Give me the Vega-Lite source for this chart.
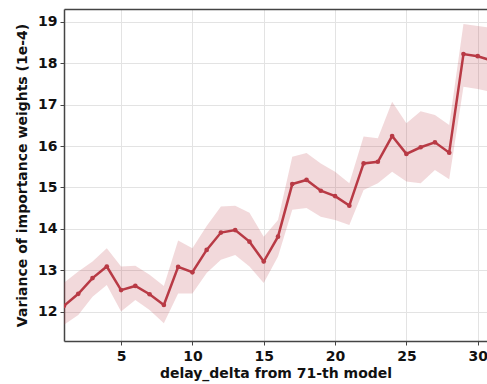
{
  "$schema": "https://vega.github.io/schema/vega-lite/v6.json",
  "width": 423,
  "height": 332,
  "autosize": {"type": "none"},
  "padding": {"left": 64, "top": 9, "right": 0, "bottom": 43},
  "background": "white",
  "config": {
    "view": {"stroke": null},
    "font": "DejaVu Sans",
    "axis": {
      "labelFont": "DejaVu Sans",
      "labelFontWeight": "bold",
      "labelFontSize": 14,
      "labelColor": "#111",
      "titleFont": "DejaVu Sans",
      "titleFontWeight": "bold",
      "titleFontSize": 14,
      "titleColor": "#111",
      "domainColor": "#444",
      "domainWidth": 1.5,
      "tickColor": "#444",
      "tickSize": 4,
      "tickWidth": 1,
      "gridColor": "#e3e3e3",
      "gridWidth": 1
    }
  },
  "data": {
    "values": [
      {"d": 1, "v": 12.14, "lo": 11.68, "hi": 12.70},
      {"d": 2, "v": 12.43, "lo": 11.92, "hi": 12.97},
      {"d": 3, "v": 12.81, "lo": 12.36, "hi": 13.21},
      {"d": 4, "v": 13.09, "lo": 12.64, "hi": 13.53},
      {"d": 5, "v": 12.52, "lo": 12.00, "hi": 13.09},
      {"d": 6, "v": 12.62, "lo": 12.28, "hi": 13.11},
      {"d": 7, "v": 12.42, "lo": 12.04, "hi": 12.89},
      {"d": 8, "v": 12.16, "lo": 11.72, "hi": 12.62},
      {"d": 9, "v": 13.08, "lo": 12.44, "hi": 13.72},
      {"d": 10, "v": 12.95, "lo": 12.44, "hi": 13.53},
      {"d": 11, "v": 13.49, "lo": 12.93, "hi": 14.07},
      {"d": 12, "v": 13.91, "lo": 13.25, "hi": 14.54},
      {"d": 13, "v": 13.97, "lo": 13.37, "hi": 14.56},
      {"d": 14, "v": 13.69, "lo": 13.09, "hi": 14.39},
      {"d": 15, "v": 13.21, "lo": 12.69, "hi": 13.81},
      {"d": 16, "v": 13.81, "lo": 13.33, "hi": 14.21},
      {"d": 17, "v": 15.08, "lo": 14.46, "hi": 15.74},
      {"d": 18, "v": 15.18, "lo": 14.50, "hi": 15.83},
      {"d": 19, "v": 14.92, "lo": 14.29, "hi": 15.58},
      {"d": 20, "v": 14.79, "lo": 14.21, "hi": 15.38},
      {"d": 21, "v": 14.56, "lo": 14.09, "hi": 15.10},
      {"d": 22, "v": 15.58, "lo": 14.94, "hi": 16.23},
      {"d": 23, "v": 15.62, "lo": 15.10, "hi": 16.19},
      {"d": 24, "v": 16.24, "lo": 15.38, "hi": 17.07},
      {"d": 25, "v": 15.81, "lo": 15.14, "hi": 16.55},
      {"d": 26, "v": 15.97, "lo": 15.10, "hi": 16.84},
      {"d": 27, "v": 16.09, "lo": 15.42, "hi": 16.75},
      {"d": 28, "v": 15.84, "lo": 15.20, "hi": 16.51},
      {"d": 29, "v": 18.22, "lo": 17.43, "hi": 18.95},
      {"d": 30, "v": 18.17, "lo": 17.38, "hi": 18.90},
      {"d": 31, "v": 18.06, "lo": 17.30, "hi": 18.85}
    ]
  },
  "layer": [
    {
      "mark": {"type": "area", "color": "#c0404a", "opacity": 0.2, "clip": true},
      "encoding": {
        "x": {
          "field": "d", "type": "quantitative",
          "scale": {"domain": [1, 30.65], "nice": false, "zero": false},
          "axis": {"orient": "top", "labels": false, "ticks": false, "grid": false, "title": null, "domain": true}
        },
        "y": {
          "field": "lo", "type": "quantitative",
          "scale": {"domain": [11.29, 19.31], "nice": false, "zero": false},
          "axis": {"values": [12, 13, 14, 15, 16, 17, 18, 19], "grid": true, "title": "Variance of importance weights (1e-4)", "titlePadding": 8, "labelPadding": 3}
        },
        "y2": {"field": "hi"}
      }
    },
    {
      "mark": {"type": "line", "color": "#b83a45", "strokeWidth": 2.5, "clip": true, "point": {"color": "#b83a45", "size": 22, "filled": true}},
      "encoding": {
        "x": {
          "field": "d", "type": "quantitative",
          "scale": {"domain": [1, 30.65], "nice": false, "zero": false},
          "axis": {"orient": "bottom", "grid": true, "values": [5, 10, 15, 20, 25, 30], "title": "delay_delta from 71-th model", "titlePadding": 3, "labelPadding": 4}
        },
        "y": {"field": "v", "type": "quantitative"}
      }
    }
  ],
  "resolve": {"axis": {"x": "independent"}}
}
